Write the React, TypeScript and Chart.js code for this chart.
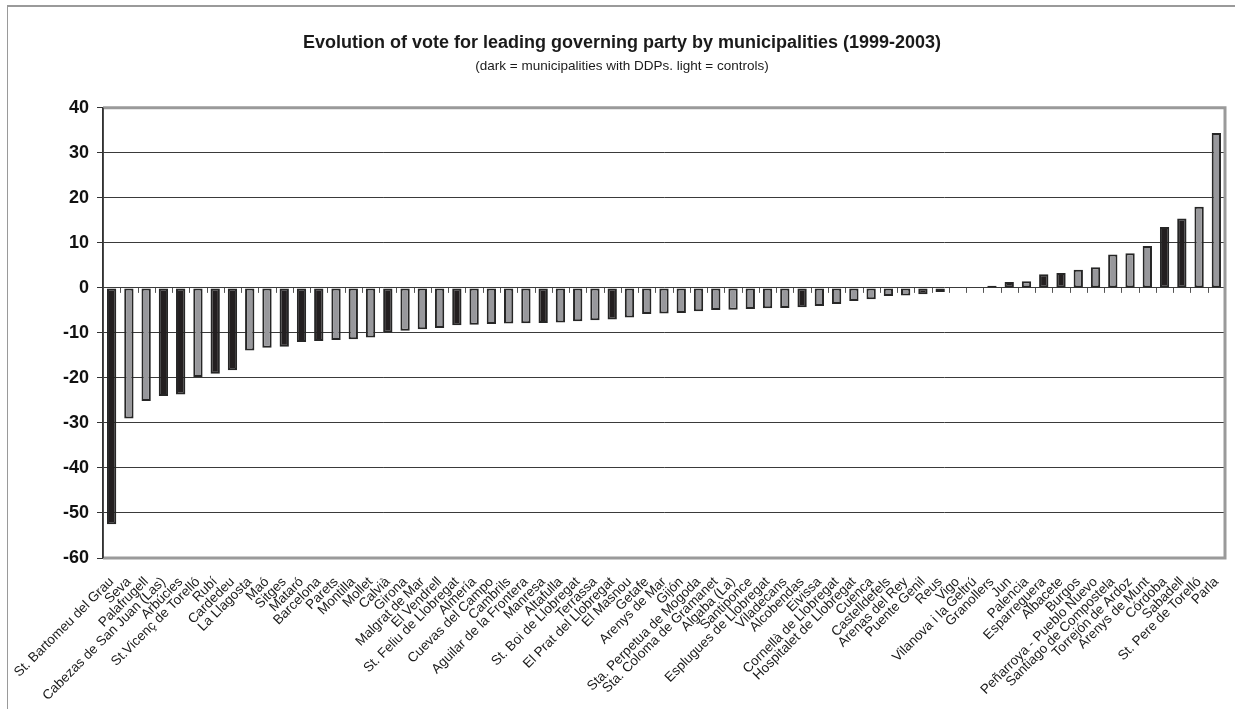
import React, { useEffect, useRef } from 'react';
import { Chart, registerables } from 'chart.js';

Chart.register(...registerables);

const municipalities = [
  'St. Bartomeu del Grau', 'Seva', 'Palafrugell', 'Cabezas de San Juan (Las)', 'Arbúcies',
  'St.Vicenç de Torelló', 'Rubí', 'Cardedeu', 'La Llagosta', 'Maó',
  'Sitges', 'Mataró', 'Barcelona', 'Parets', 'Montilla',
  'Mollet', 'Calvià', 'Girona', 'Malgrat de Mar', 'El Vendrell',
  'St. Feliu de Llobregat', 'Almería', 'Cuevas del Campo', 'Cambrils', 'Aguilar de la Frontera',
  'Manresa', 'Altafulla', 'St. Boi de Llobregat', 'Terrassa', 'El Prat del Llobregat',
  'El Masnou', 'Getafe', 'Arenys de Mar', 'Gijón', 'Sta. Perpetua de Mogoda',
  'Sta. Coloma de Gramanet', 'Algaba (La)', 'Santiponce', 'Esplugues de Llobregat', 'Viladecans',
  'Alcobendas', 'Eivissa', 'Cornellà de Llobregat', 'Hospitalet de Llobregat', 'Cuenca',
  'Castelldefels', 'Arenas del Rey', 'Puente Genil', 'Reus', 'Vigo',
  'Vilanova i la Geltrú', 'Granollers', 'Jun', 'Palencia', 'Esparreguera',
  'Albacete', 'Burgos', 'Peñarroya - Pueblo Nuevo', 'Santiago de Compostela', 'Torrejón de Ardoz',
  'Arenys de Munt', 'Córdoba', 'Sabadell', 'St. Pere de Torelló', 'Parla',
];

const voteChange = [
  -52.5, -29.0, -25.1, -24.0, -23.7,
  -19.8, -19.1, -18.3, -13.9, -13.3,
  -13.1, -12.0, -11.8, -11.6, -11.4,
  -11.0, -9.9, -9.5, -9.2, -8.9,
  -8.3, -8.2, -8.0, -7.9, -7.85,
  -7.8, -7.7, -7.4, -7.2, -7.0,
  -6.6, -5.8, -5.7, -5.6, -5.2,
  -4.9, -4.85, -4.7, -4.5, -4.45,
  -4.3, -4.0, -3.6, -2.9, -2.5,
  -1.8, -1.7, -1.4, -0.9, 0,
  0, 0.5, 1.3, 1.5, 3.0,
  3.3, 4.0, 4.6, 7.4, 7.7,
  9.3, 13.5, 15.4, 18.0, 34.4,
];

// 1 = municipality with DDPs (dark), 0 = control (light)
const hasDDP = [
  1, 0, 0, 1, 1,
  0, 1, 1, 0, 0,
  1, 1, 1, 0, 0,
  0, 1, 0, 0, 0,
  1, 0, 0, 0, 0,
  1, 0, 0, 0, 1,
  0, 0, 0, 0, 0,
  0, 0, 0, 0, 0,
  1, 0, 0, 0, 0,
  0, 0, 1, 1, 0,
  0, 1, 1, 0, 1,
  1, 0, 0, 0, 0,
  0, 1, 1, 0, 0,
];

const yMin = -60;
const yMax = 40;
const yStep = 10;

const titleText = 'Evolution of vote for leading governing party by municipalities (1999-2003)';
const subtitleText = '(dark = municipalities with DDPs. light = controls)';

const DARK = '#231f20';
const LIGHT = '#98989c';
const FONT = "'Liberation Sans', Arial, sans-serif";

const plotFrame = {
  id: 'plotFrame',
  afterDraw(chart: any) {
    const { ctx, chartArea } = chart;
    const { left, right, top, bottom } = chartArea;
    ctx.save();
    ctx.strokeStyle = '#9a9a9a';
    ctx.lineWidth = 3;
    ctx.beginPath();
    ctx.moveTo(left, top);
    ctx.lineTo(right, top);
    ctx.lineTo(right, bottom);
    ctx.lineTo(left, bottom);
    ctx.stroke();
    ctx.strokeStyle = '#333';
    ctx.lineWidth = 1.5;
    ctx.beginPath();
    ctx.moveTo(left, top);
    ctx.lineTo(left, bottom);
    ctx.stroke();
    ctx.restore();
  },
};

const zeroTicks = {
  id: 'zeroTicks',
  afterDatasetsDraw(chart: any) {
    const { ctx } = chart;
    const x = chart.scales.x;
    const y = chart.scales.y;
    const y0 = y.getPixelForValue(0);
    const n = chart.data.labels.length;
    ctx.save();
    ctx.strokeStyle = '#555';
    ctx.lineWidth = 1;
    ctx.beginPath();
    for (let i = 1; i <= n; i++) {
      const px = x.getPixelForValue(i - 0.5);
      ctx.moveTo(Math.round(px) + 0.5, y0);
      ctx.lineTo(Math.round(px) + 0.5, y0 + 5);
    }
    ctx.stroke();
    ctx.restore();
  },
};

export default function App() {
  const canvasRef = useRef<HTMLCanvasElement | null>(null);

  useEffect(() => {
    document.body.style.margin = '0';
    document.body.style.overflow = 'hidden';
    const canvas = canvasRef.current;
    if (!canvas) return;
    const chart = new Chart(canvas, {
      type: 'bar',
      data: {
        labels: municipalities,
        datasets: [
          {
            data: voteChange,
            backgroundColor: hasDDP.map((d) => (d ? DARK : LIGHT)),
            borderColor: hasDDP.map(() => '#262626'),
            borderWidth: 2,
            borderSkipped: false,
            barPercentage: 0.54,
            categoryPercentage: 1,
          },
        ],
      },
      options: {
        responsive: false,
        animation: false,
        devicePixelRatio: 1,
        layout: { padding: { top: 22, right: 10, left: 19, bottom: 0 } },
        plugins: {
          legend: { display: false },
          tooltip: { enabled: false },
          title: {
            display: true,
            text: titleText,
            color: '#1a1a1a',
            font: { family: FONT, size: 18, weight: 'bold', lineHeight: 1.2 },
            padding: { top: 10, bottom: 1 },
          },
          subtitle: {
            display: true,
            text: subtitleText,
            color: '#1a1a1a',
            font: { family: FONT, size: 13.5, lineHeight: 1.2 },
            padding: { top: 4, bottom: 33 },
          },
        },
        scales: {
          x: {
            type: 'category',
            grid: { display: false, drawTicks: false },
            border: { display: false },
            ticks: {
              autoSkip: false,
              minRotation: 45,
              maxRotation: 45,
              padding: 16,
              color: '#1a1a1a',
              font: { family: FONT, size: 13.5 },
            },
            afterFit(scale: any) {
              scale.height = 151;
              scale.paddingLeft = 0;
              scale.paddingRight = 0;
            },
          },
          y: {
            min: yMin,
            max: yMax,
            ticks: {
              stepSize: yStep,
              padding: 8,
              color: '#111',
              font: { family: FONT, size: 18, weight: 'bold' },
            },
            grid: {
              color: '#3a3a3a',
              lineWidth: 1,
              tickLength: 6,
              tickColor: '#333',
            },
            border: { display: true, color: '#333', width: 1.5 },
            afterFit(scale: any) {
              scale.width = 84;
            },
          },
        },
      },
      plugins: [zeroTicks, plotFrame],
    });
    return () => chart.destroy();
  }, []);

  return (
    <div style={{ position: 'relative', width: 1235, height: 709, background: '#fff' }}>
      <canvas ref={canvasRef} width={1235} height={709} style={{ display: 'block' }} />
      <div
        style={{
          position: 'absolute',
          left: 7,
          top: 5,
          width: 1260,
          height: 740,
          borderLeft: '1.5px solid #9a9a9a',
          borderTop: '2px solid #9a9a9a',
          pointerEvents: 'none',
        }}
      />
    </div>
  );
}
